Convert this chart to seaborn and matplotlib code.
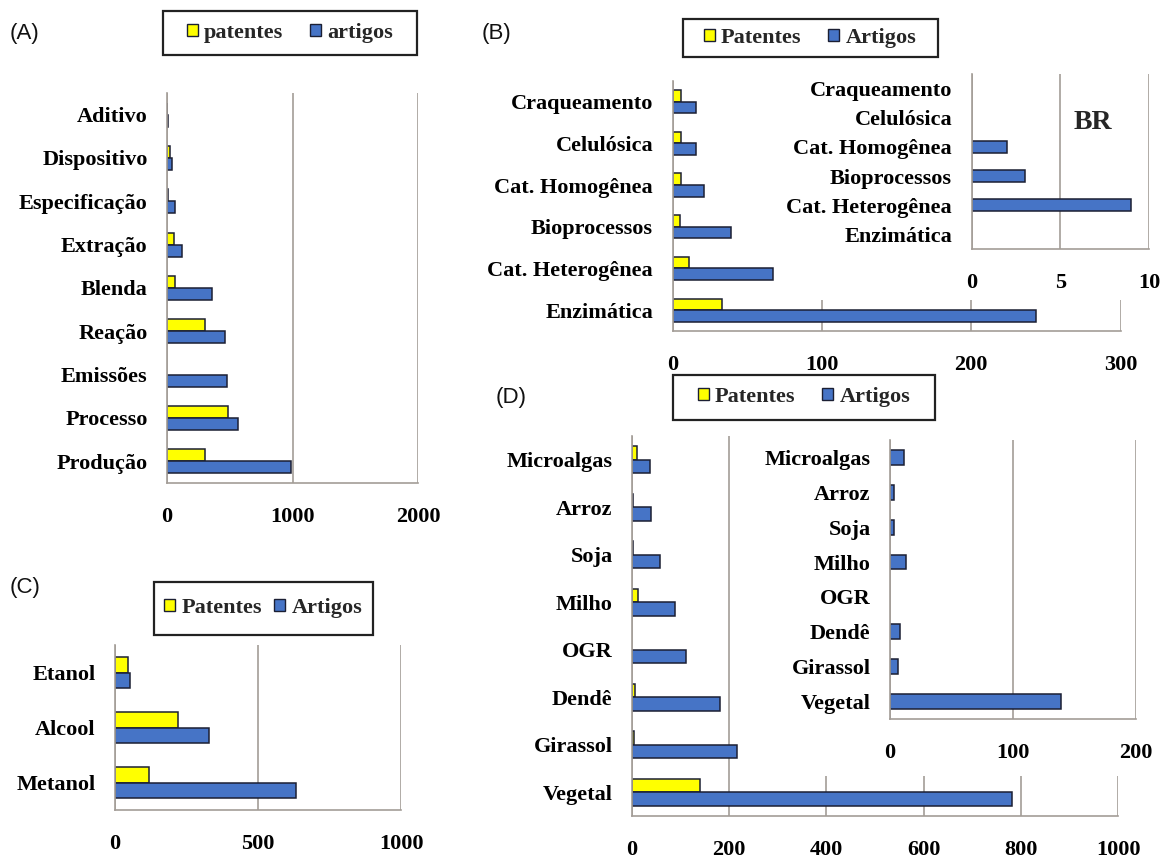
import numpy as np
import pandas as pd
import matplotlib
matplotlib.use("Agg")
import matplotlib.pyplot as plt
from matplotlib.patches import Patch, Rectangle
import seaborn as sns

# ---------------- data ----------------
A_categories = ["Aditivo", "Dispositivo", "Especificação", "Extração", "Blenda",
                "Reação", "Emissões", "Processo", "Produção"]
A_patentes = [3, 24, 5, 56, 67, 300, 0, 490, 300]
A_artigos = [8, 40, 67, 123, 357, 460, 482, 565, 985]

B_categories = ["Craqueamento", "Celulósica", "Cat. Homogênea", "Bioprocessos",
                "Cat. Heterogênea", "Enzimática"]
B_patentes = [6, 6, 6, 5, 11, 33]
B_artigos = [16, 16, 21, 39, 67, 243]
B_br_artigos = [0, 0, 2, 3, 9, 0]

C_categories = ["Etanol", "Alcool", "Metanol"]
C_patentes = [45, 220, 118]
C_artigos = [54, 329, 633]

D_categories = ["Microalgas", "Arroz", "Soja", "Milho", "OGR", "Dendê", "Girassol", "Vegetal"]
D_patentes = [11, 2, 2, 12, 0, 7, 5, 139]
D_artigos = [38, 39, 58, 89, 112, 182, 217, 782]
D_br_artigos = [11, 3, 3, 13, 0, 8.5, 6.5, 139]

# ---------------- style ----------------
sns.set_theme(style="white")
W, H = 1163, 860
YELLOW = "#FFFF00"
BLUE = "#4674C6"
EDGE = "#1b1f33"
GRID = "#a39d97"
SERIF = "Liberation Serif"
FS = 16

fig = plt.figure(figsize=(W / 100, H / 100), dpi=100)
fig.patch.set_facecolor("white")


def px_rect(x0, y0, x1, y1):
    return [x0 / W, 1 - y1 / H, (x1 - x0) / W, (y1 - y0) / H]


def style_axis(ax, cats, xmax, xticks):
    n = len(cats)
    ax.set_xlim(0, xmax)
    ax.set_ylim(n - 0.5, -0.5)
    ax.set_xticks(xticks)
    ax.set_xticklabels([str(t) for t in xticks], fontfamily=SERIF,
                       fontweight="bold", fontsize=FS)
    ax.set_yticks(range(n))
    ax.set_yticklabels(cats, fontfamily=SERIF, fontweight="bold", fontsize=FS)
    ax.set_yticks(np.arange(-0.5, n), minor=True)
    ax.tick_params(axis="y", which="major", length=0, pad=14, colors="black")
    ax.tick_params(axis="y", which="minor", length=4, width=1.2, color=GRID,
                   direction="out")
    ax.tick_params(axis="x", which="major", length=4, width=1.2, color=GRID,
                   direction="out", pad=13, labelcolor="black")
    for s in ("top", "right"):
        ax.spines[s].set_visible(False)
    for s in ("left", "bottom"):
        ax.spines[s].set_color(GRID)
        ax.spines[s].set_linewidth(1.2)
    ax.xaxis.grid(True, color=GRID, linewidth=1.2)
    ax.yaxis.grid(False)
    ax.set_axisbelow(True)
    ax.set_xlabel("")
    ax.set_ylabel("")
    ax.set_facecolor("white")
    # empty (zero-length) bars leave no outline
    for p in ax.patches:
        if p.get_width() == 0:
            p.set_linewidth(0)


def paired_bars(ax, cats, pat, art, names):
    df = pd.DataFrame({
        "categoria": list(cats) * 2,
        "valor": list(pat) + list(art),
        "serie": [names[0]] * len(cats) + [names[1]] * len(cats),
    })
    sns.barplot(data=df, x="valor", y="categoria", hue="serie", order=cats,
                hue_order=names, palette={names[0]: YELLOW, names[1]: BLUE},
                saturation=1, orient="h", width=0.56, edgecolor=EDGE,
                linewidth=1.1, errorbar=None, legend=False, ax=ax)


def single_bars(ax, cats, vals):
    df = pd.DataFrame({"categoria": cats, "valor": vals})
    sns.barplot(data=df, x="valor", y="categoria", order=cats, color=BLUE,
                saturation=1, orient="h", width=0.42, edgecolor=EDGE,
                linewidth=1.1, errorbar=None, ax=ax)


def legend_box(names, cx, cy, bw, bh, colspace):
    handles = [Patch(facecolor=YELLOW, edgecolor=EDGE, linewidth=1.0),
               Patch(facecolor=BLUE, edgecolor=EDGE, linewidth=1.0)]
    fig.legend(handles, names, loc="center", bbox_to_anchor=(cx / W, 1 - cy / H),
               ncol=2, frameon=False, handlelength=0.5, handleheight=0.5,
               handletextpad=0.28, columnspacing=colspace, borderpad=0,
               prop={"family": SERIF, "weight": "bold", "size": FS})
    fig.patches.append(Rectangle(((cx - bw / 2) / W, 1 - (cy + bh / 2) / H),
                                 bw / W, bh / H, transform=fig.transFigure,
                                 facecolor="none", edgecolor="#222222",
                                 linewidth=1.6, zorder=5))


def cover(x0, y0, x1, y1):
    fig.patches.append(Rectangle((x0 / W, 1 - y1 / H), (x1 - x0) / W, (y1 - y0) / H,
                                 transform=fig.transFigure, facecolor="white",
                                 edgecolor="none", zorder=1))


def panel_letter(txt, x, y):
    fig.text(x / W, 1 - y / H, txt, fontsize=16, family="Liberation Sans",
             va="center", ha="left", color="#111111")


# ---------------- (A) ----------------
axA = fig.add_axes(px_rect(167, 93, 418, 483))
paired_bars(axA, A_categories, A_patentes, A_artigos, ["patentes", "artigos"])
style_axis(axA, A_categories, 2000, [0, 1000, 2000])
legend_box(["patentes", "artigos"], 290, 33, 254, 43, 1.2)
panel_letter("(A)", 10, 33)

# ---------------- (B) ----------------
axB = fig.add_axes(px_rect(672.5, 81, 1120.7, 331))
paired_bars(axB, B_categories, B_patentes, B_artigos, ["Patentes", "Artigos"])
style_axis(axB, B_categories, 300, [0, 100, 200, 300])
cover(780, 60, 1163, 300)
axBi = fig.add_axes(px_rect(971.5, 74, 1149, 249))
axBi.set_zorder(2)
single_bars(axBi, B_categories, B_br_artigos)
style_axis(axBi, B_categories, 10, [0, 5, 10])
axBi.text(0.685, 0.72, "BR", transform=axBi.transAxes, fontfamily=SERIF,
          fontweight="bold", fontsize=20, ha="center", va="center")
legend_box(["Patentes", "Artigos"], 810, 38, 255, 37, 1.2)
panel_letter("(B)", 482, 33)

# ---------------- (C) ----------------
axC = fig.add_axes(px_rect(115, 645, 401, 810))
paired_bars(axC, C_categories, C_patentes, C_artigos, ["Patentes", "Artigos"])
style_axis(axC, C_categories, 1000, [0, 500, 1000])
legend_box(["Patentes", "Artigos"], 263, 608, 219, 53, 0.55)
panel_letter("(C)", 10, 587)

# ---------------- (D) ----------------
axD = fig.add_axes(px_rect(632, 436, 1118, 816))
paired_bars(axD, D_categories, D_patentes, D_artigos, ["Patentes", "Artigos"])
style_axis(axD, D_categories, 1000, [0, 200, 400, 600, 800, 1000])
cover(742, 428, 1163, 776)
axDi = fig.add_axes(px_rect(890, 440, 1136, 719))
axDi.set_zorder(2)
single_bars(axDi, D_categories, D_br_artigos)
style_axis(axDi, D_categories, 200, [0, 100, 200])
legend_box(["Patentes", "Artigos"], 804, 397, 262, 45, 1.2)
panel_letter("(D)", 496, 398)

fig.savefig("out.png", dpi=100, facecolor="white")
